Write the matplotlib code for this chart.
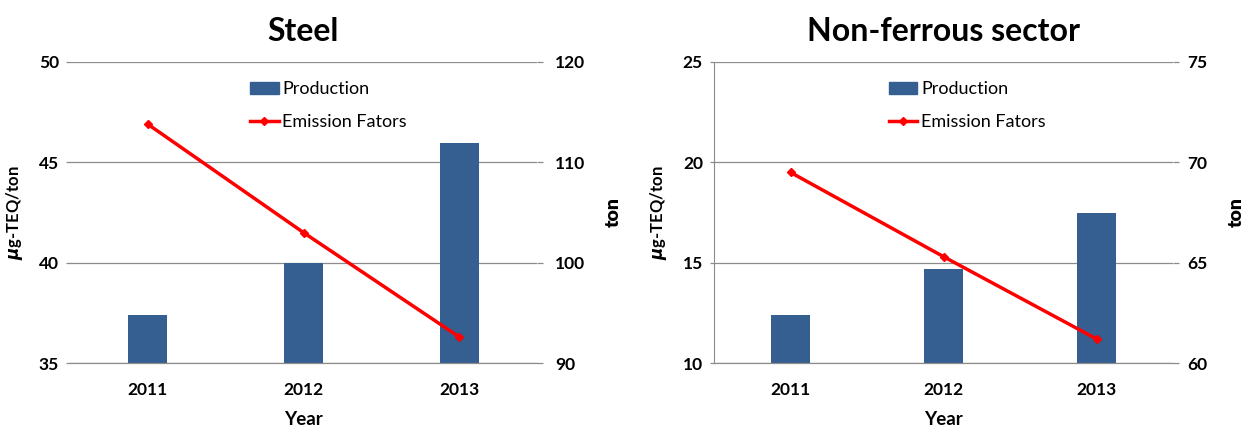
import matplotlib
matplotlib.use("Agg")
import matplotlib.pyplot as plt
from matplotlib.lines import Line2D
from matplotlib.patches import Patch

plt.rcParams['font.family'] = ['Lato', 'DejaVu Sans']
plt.rcParams['font.weight'] = 'bold'

# donnees
years = ["2011", "2012", "2013"]
steel_prod = [94.8, 100.0, 111.9]      # ton (axe droit)
steel_ef = [46.9, 41.5, 36.3]          # ug-TEQ/ton (axe gauche)
nonfe_prod = [62.4, 64.7, 67.5]
nonfe_ef = [19.5, 15.3, 11.2]

titles = ["Steel", "Non-ferrous sector"]
left_lims = [(35, 50), (10, 25)]
right_lims = [(90, 120), (60, 75)]
left_ticks = [[35, 40, 45, 50], [10, 15, 20, 25]]
right_ticks = [[90, 100, 110, 120], [60, 65, 70, 75]]

bar_color = "#365F91"
line_color = "#FF0000"

fig = plt.figure(figsize=(12.46, 4.32), dpi=100)
rects = [[70 / 1246, 69 / 432, 467 / 1246, 301 / 432],
         [714 / 1246, 69 / 432, 459 / 1246, 301 / 432]]
prods = [steel_prod, nonfe_prod]
efs = [steel_ef, nonfe_ef]
leg_x = [0.35, 0.345]
ylab_pad = [10, 10]
tonlab_pad = [14, 15]
rpad = [9, 6]

for i in range(2):
    ax = fig.add_axes(rects[i])
    ax2 = ax.twinx()
    x = list(range(len(years)))

    # barres production sur axe droit, dessinees sous la ligne
    ax2.bar(x, prods[i], width=0.25, color=bar_color, zorder=2)
    ax2.set_ylim(*right_lims[i])
    ax2.set_yticks(right_ticks[i])
    ax2.yaxis.grid(True, color="#8c8c8c", linewidth=0.9, zorder=0)
    ax2.set_axisbelow(True)

    ax.plot(x, efs[i], color=line_color, linewidth=2.5, marker="D",
            markersize=4.5, zorder=3)
    ax.set_ylim(*left_lims[i])
    ax.set_yticks(left_ticks[i])
    ax.set_xlim(-0.5, 2.5)
    ax.set_xticks(x)
    ax.set_xticklabels(years)
    ax.set_zorder(ax2.get_zorder() + 1)
    ax.patch.set_visible(False)

    for a in (ax, ax2):
        for s in ["top", "right", "left"]:
            a.spines[s].set_visible(False)
        a.spines["bottom"].set_color("#8c8c8c")
        a.tick_params(colors="#8c8c8c", labelcolor="black", width=0.9,
                      labelsize=12.5)
    ax.tick_params(axis="y", length=3, pad=5)
    ax2.tick_params(axis="y", length=4, pad=rpad[i])
    ax.tick_params(axis="x", length=0, pad=14)
    ax2.tick_params(axis="x", length=0)
    if i == 1:
        ax.spines["left"].set_visible(True)
        ax.spines["left"].set_color("#8c8c8c")

    ax.set_title(titles[i], fontsize=23, fontweight="bold", pad=15)
    ax.set_xlabel("Year", fontsize=13.5, fontweight="bold", labelpad=9)
    ax.set_ylabel(r"$\mu$g-TEQ/ton", fontsize=12, fontweight="bold",
                  labelpad=ylab_pad[i])
    ax2.set_ylabel("ton", fontsize=14, fontweight="heavy",
                   labelpad=tonlab_pad[i], rotation=90)

    handles = [Patch(color=bar_color),
               Line2D([0], [0], color=line_color, linewidth=2.5, marker="D",
                      markersize=4.5)]
    ax.legend(handles, ["Production", "Emission Fators"], loc="upper left",
              bbox_to_anchor=(leg_x[i], 0.99), frameon=False,
              prop={"size": 13, "weight": "normal"},
              handlelength=1.6, handletextpad=0.2, labelspacing=0.95)

fig.savefig("out.png", dpi=100)
